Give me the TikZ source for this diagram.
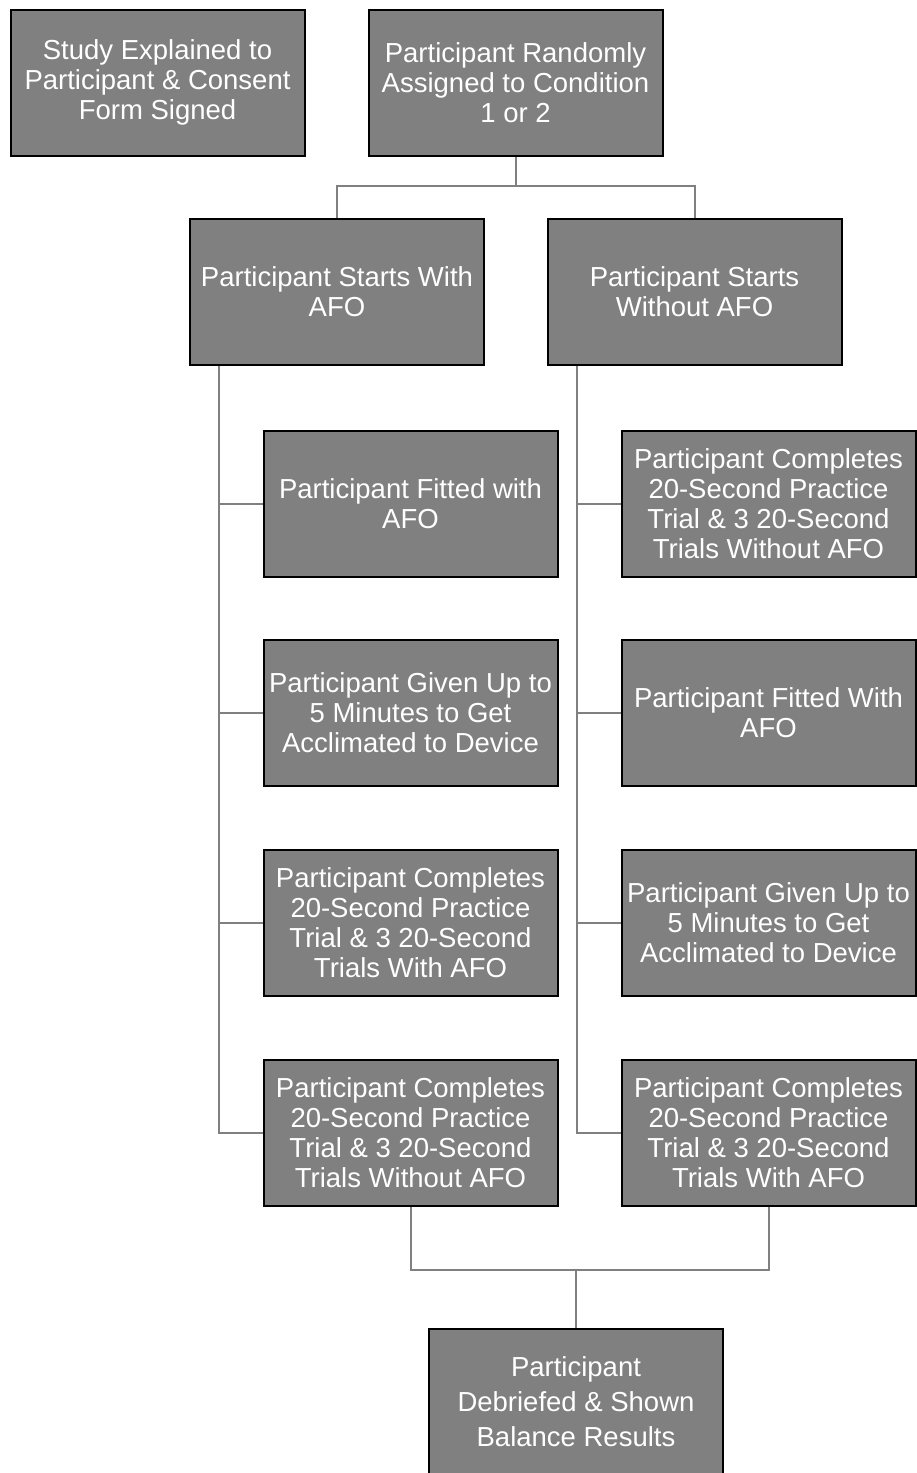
\documentclass[tikz,border=0pt]{standalone}
\usepackage{fontspec}
\setmainfont{Liberation Sans}
\definecolor{boxfill}{HTML}{808080}
\definecolor{connc}{HTML}{808080}
\begin{document}
\begin{tikzpicture}[x=1pt,y=-1pt,
  box/.style={draw=black, line width=2pt, fill=boxfill, text=white,
    minimum width=294pt, minimum height=146pt, inner sep=0pt, align=center,
    font=\fontsize{27.5}{30}\selectfont},
  conn/.style={draw=connc, line width=2pt}]
\useasboundingbox (0,0) rectangle (917,1473);
\node[box] (A) at (157.5,82.5) {Study Explained to\\Participant \& Consent\\Form Signed};
\node[box] (B) at (515.5,82.5) {Participant Randomly\\Assigned to Condition\\1 or 2};
\node[box] (C) at (337,291.5) {Participant Starts With\\AFO};
\node[box] (D) at (694.5,291.5) {Participant Starts\\Without AFO};
\node[box] (L1) at (410.5,503.5) {Participant Fitted with\\AFO};
\node[box] (L2) at (410.5,712.5) {Participant Given Up to\\5 Minutes to Get\\Acclimated to Device};
\node[box] (L3) at (410.5,922.5) {Participant Completes\\20-Second Practice\\Trial \& 3 20-Second\\Trials With AFO};
\node[box] (L4) at (410.5,1132.5) {Participant Completes\\20-Second Practice\\Trial \& 3 20-Second\\Trials Without AFO};
\node[box] (R1) at (768.5,503.5) {Participant Completes\\20-Second Practice\\Trial \& 3 20-Second\\Trials Without AFO};
\node[box] (R2) at (768.5,712.5) {Participant Fitted With\\AFO};
\node[box] (R3) at (768.5,922.5) {Participant Given Up to\\5 Minutes to Get\\Acclimated to Device};
\node[box] (R4) at (768.5,1132.5) {Participant Completes\\20-Second Practice\\Trial \& 3 20-Second\\Trials With AFO};
\node[box, font=\fontsize{27.5}{35}\selectfont] (E) at (576,1401.5) {Participant\\Debriefed \& Shown\\Balance Results};
% connectors
\coordinate (bj) at (515.5,186);
\draw[conn] (B.south) -- (bj);
\draw[conn] (bj) -| (C.north);
\draw[conn] (bj) -| (D.north);
\path (C.south west) ++(30,0) coordinate (lt);
\path (D.south west) ++(30,0) coordinate (rt);
\draw[conn] (lt) |- (L4.west);
\draw[conn] (rt) |- (R4.west);
\foreach \i in {1,2,3} {
  \draw[conn] (L\i.west) -- (L\i.west -| lt);
  \draw[conn] (R\i.west) -- (R\i.west -| rt);
}
\coordinate (bm) at (576,1270);
\draw[conn] (L4.south) -- (L4.south |- bm) -- (R4.south |- bm) -- (R4.south);
\draw[conn] (bm) -- (E.north);
\end{tikzpicture}
\end{document}
